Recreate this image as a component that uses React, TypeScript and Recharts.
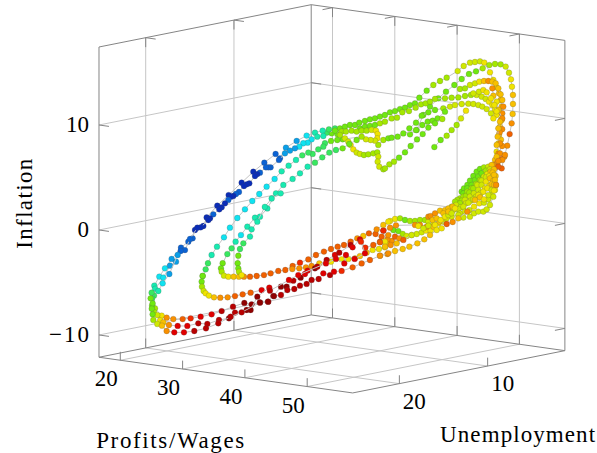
import * as React from "react";
import { ReferenceDot, ReferenceLine, Scatter, ScatterChart, XAxis, YAxis } from "recharts";

// a point is [across, height, colour]: across is read on the Profits/Wages scale,
// height on the Inflation scale of the left edge, colour is an index in colourBands
type Pt = [number, number, number];

const colourBands = [
  "#0a2cb8", "#0a62d4", "#0a9fe8", "#10e2f0", "#18eab0", "#38e860", "#70e810", "#a4e800", "#d0e800",
  "#f0e400", "#f8c000", "#f89000", "#f06000", "#f02800", "#e00000", "#b80000", "#900000",
];

const profitTicks = [20, 30, 40, 50];
const unemploymentTicks = [20, 10];
const inflationTicks = [-10, 0, 10];
const profitRange = [16.58, 57.3];
const unemploymentRange = [1.25, 25.29];
const inflationRange = [-12.12, 17.43];

const outerLoop: Pt[] = [
  [52.59,8.95,4],[51.62,8.89,4],[50.71,8.64,3],[50.07,8.32,3],[49.37,8.26,3],[48.73,7.94,3],[48.04,7.78,2],[47.24,7.56,2],
  [46.43,7.3,2],[45.47,6.67,1],[44.13,5.97,1],[43.76,5.97,1],[43.38,5.97,1],[42.42,5.46,1],[41.99,5.33,0],[41.62,5.14,0],
  [40.71,4.44,0],[40.28,4.35,0],[39.85,4.19,0],[39.05,3.62,1],[38.57,3.43,1],[38.14,3.24,0],[37.77,3.17,0],[37.34,2.86,1],
  [36.8,2.54,0],[36.27,2.16,0],[35.89,1.97,0],[34.93,1.49,1],[34.4,1.11,0],[34.13,0.95,0],[32.9,0.25,0],[32.36,0.22,0],
  [31.19,-0.86,1],[30.38,-1.91,1],[29.69,-2,1],[29.21,-2.38,2],[27.87,-4.19,2],[26.8,-5.08,3],[26.1,-5.81,4],[25.03,-5.97,5],
  [24.87,-6.51,6],[25.19,-6.99,6],[25.05,-7.5,6],[25.19,-8.03,6],[25.3,-8.57,7],[25.94,-8.95,8],[26.69,-9.11,10],[27.44,-9.62,11],
  [28.67,-9.75,14],[30.22,-9.75,14],[31.88,-9.62,15],[33.75,-9.37,15],[35.73,-8.89,15],[37.71,-8.26,15],[39.48,-7.84,15],
  [42.42,-6.92,16],[43.7,-6.83,16],[44.67,-6.29,16],[45.79,-6.19,15],[46.81,-5.72,15],[47.93,-5.62,15],[48.84,-5.3,15],
  [49.91,-5.14,15],[50.71,-4.76,15],[51.84,-4.67,15],[52.59,-4.13,14],[53.66,-4.29,15],[54.3,-3.97,14],[55.53,-3.9,13],
  [57.29,-3.56,12],[58.74,-3.18,12],[60.07,-2.86,12],[61.68,-2.45,11],[63.02,-2.22,11],[64.1,-2,10],[65.33,-1.81,10],
  [66.4,-1.59,10],[67.68,-1.27,10],[68.8,-0.89,10],[69.72,-0.48,10],[70.79,0,9],[71.59,0.16,9],
];

const upperLoop: Pt[] = [
  [53.49,9.59,5],[52.48,9.46,4],[51.25,9.27,4],[49.91,8.99,3],[48.31,8.48,2],[46.59,7.84,2],[45.63,6.83,1],[44.93,7.24,1],
  [43.12,6.41,1],[41.35,5.55,0],[39.48,4.51,0],[37.39,3.33,0],[35.57,2.32,0],[33.86,1.2,0],[33.33,0.38,0],[31.99,0,0],
  [31.61,-0.79,1],[30.92,-1.11,1],[29.74,-1.68,1],[28.24,-2.76,2],[27.17,-3.65,3],[26.26,-4.44,3],[25.46,-5.3,4],
  [25.41,-6.25,5],[25.57,-7.46,7],[26.64,-8.16,9],[27.44,-8.35,11],[28.51,-8.48,11],[30.01,-8.48,12],[31.29,-8.41,13],
  [32.9,-8.26,14],[34.66,-8.03,14],[36.27,-7.72,15],[38.09,-7.3,15],[39.91,-6.95,16],[41.08,-7.08,16],[42.42,-6.89,16],
  [43.76,-6.83,15],[44.56,-6.29,16],[45.79,-5.4,16],[46.7,-5.4,16],[47.77,-4.83,15],[48.95,-4.54,16],[49.64,-4.19,14],
  [50.07,-3.87,14],[51.25,-3.65,16],[51.62,-3.49,15],[53.12,-2.86,15],[54.46,-2.38,14],[55.15,-2.16,15],[56.97,-1.43,15],
  [57.29,-1.65,14],[58.47,-0.89,14],[59.33,-1.68,13],[60.61,-1.43,12],[61.68,-1.17,12],[62.49,-1.59,10],[63.4,-1.43,11],
  [64.37,-1.27,10],[65.44,-0.95,12],[66.77,-0.48,8],
];

const middleLoop: Pt[] = [
  [28.94,-3.02,2],[27.98,-3.4,2],[26.91,-4.54,3],[25.6,-5.6,4],[25.1,-6.5,5],[25.1,-7.2,6],[25.4,-7.8,7],[25.94,-8.1,8],[26.4,-8.6,9],
  [26.9,-8.8,10],[27.81,-9.05,11],[29.21,-9.14,14],[30.76,-9.14,14],
  [32.52,-8.89,15],[33.97,-8.95,15],[35.84,-8.57,15],[37.44,-8.41,16],[38.41,-7.87,15],[40.28,-7.62,16],[40.92,-7.62,16],
  [41.99,-6.35,16],[43.92,-5.49,14],[44.02,-5.78,15],[47.07,-4.76,14],[48.57,-4.29,14],[53.01,-3.18,14],[54.62,-2.76,14],
  [55.96,-3.18,14],[56.22,-2.38,14],[57.61,-2.76,14],[59.27,-2.22,14],[58.63,-1.11,13],
];

const innerRed: Pt[] = [
  [33.22,-4.38,6],[33.06,-4.92,6],[33.11,-5.4,7],[33.38,-5.81,8],[33.7,-6.03,9],[34.23,-6.25,9],[35.04,-6.41,10],
  [36.05,-6.45,11],[37.23,-6.41,11],[38.41,-6.29,12],[39.64,-6.13,12],[40.92,-5.97,12],[42.69,-5.72,14],
];

const innerCyan: Pt[] = [
  [54.83,8.57,6],[53.82,8.48,6],[52.85,8.26,5],[52.59,7.94,5],[51.78,7.68,5],[50.87,7.24,5],[50.18,7.37,5],[49.21,7.11,5],
  [48.2,6.67,4],[47.02,6.13,4],[45.9,5.59,4],[44.77,4.86,3],[43.49,4.13,3],[42.31,3.43,3],[41.19,2.76,3],[40.01,1.97,3],
  [38.78,1.14,3],[37.6,0.22,3],[36.64,-0.7,3],[35.52,-1.59,4],[34.66,-2.38,4],[34.07,-3.17,5],[33.7,-3.75,5],[33.22,-4.38,6],
];

const innerOrange: Pt[] = [
  [57.94,8.57,6],[56.76,8.19,6],[55.69,7.78,6],[54.62,7.62,5],[53.55,7.37,5],[52.42,6.92,5],[51.25,6.41,5],[50.07,6.03,4],
  [48.84,5.4,4],[47.66,4.86,4],[46.17,4.29,4],[44.99,3.49,4],[43.6,2.05,4],[42.42,1.27,4],[41.62,1.17,4],[40.39,0.32,4],
  [39.37,-0.48,3],[38.51,-1.11,4],[37.87,-1.75,5],[37.18,-2.29,5],[36.43,-3.17,6],[36.16,-3.65,6],[36.27,-3.97,7],
  [36.64,-4.35,8],[37.34,-4.45,9],[38.19,-4.45,10],[39.05,-4.45,10],[39.85,-4.45,11],[40.82,-4.45,12],[41.89,-4.38,12],
  [43.06,-4.29,12],[44.13,-4.13,12],[45.36,-3.9,12],[46.49,-3.81,12],[47.66,-3.43,12],[48.84,-3.11,13],[50.18,-2.8,12],
  [51.41,-2.38,12],[52.69,-2.06,12],[53.82,-1.81,12],[54.89,-1.59,12],[55.9,-1.43,12],[56.97,-1.11,12],[58.04,-0.79,11],
  [59,-0.57,10],[59.91,-0.32,12],[60.98,-0.38,12],[61.15,0.06,11],[62.22,0.48,10],[63.02,0.79,9],
];

const thirdInner: Pt[] = [
  [45.74,3.49,4],[44.3,3,4],[43.2,2.2,4],[41.99,0.79,4],[41.08,0.06,4],[40.82,-0.63,4],[39.75,-1.27,5],[39.21,-1.81,5],
  [38.94,-2.45,6],[38.84,-3.17,6],[38.94,-3.65,6],[39.05,-3.97,7],[39.48,-4.29,9],
];

const yellowRow: Pt[] = [
  [47.61,-3.72,11],[48.73,-3.65,11],[49.8,-3.56,11],[50.71,-3.43,11],[51.94,-3.18,10],[53.82,-3.02,9],[55.53,-2.79,9],
  [56.6,-2.76,9],[57.67,-2.7,10],[58.47,-2.48,10],[59.54,-2.16,10],[60.5,-1.9,9],[61.52,-1.81,9],[62.48,-1.65,9],[63.02,-1.27,10],
  [63.56,-1.05,11],[64.1,-0.64,12],[64.79,-0.79,11],[65.97,-0.57,8],
];

const topArc: Pt[] = [
  [54.46,9.68,5],[55.26,9.68,6],[56.06,9.84,6],[56.86,10,6],[57.67,10,6],[58.36,10.22,6],[59.27,10.38,6],[60.07,10.54,6],
  [60.88,10.64,6],[61.68,10.8,6],[62.48,10.95,6],[63.29,11.21,6],[64.1,11.33,6],[64.9,11.52,6],[65.7,11.65,6],[66.5,11.9,6],
  [67.3,12.06,6],[68,12.6,6],[69.18,13.27,6],[70.25,13.81,7],[71.32,14.19,7],[72.39,14.51,7],[74.15,15.14,8],[75.12,15.62,8],
  [76.13,15.94,8],[76.93,16,8],[77.74,16.06,8],[78.43,15.94,9],[79.34,15.02,9],[79.88,14.29,9],[80.41,13.59,9],[80.79,13.02,10],
  [81.05,12.38,10],[81.22,11.75,10],[81.22,11.11,10],[81.11,10.48,10],[80.95,9.84,10],[80.79,9.05,10],[80.68,8.25,9],
  [80.41,7.46,9],[80.15,6.67,10],
];

const outerArc: Pt[] = [
  [66.5,9.11,6],[67.57,9.52,6],[68.64,10.95,6],[69.71,11.75,6],[71.05,12.54,6],[72.28,13.17,6],[73.62,13.81,6],[74.8,14.38,6],
  [75.97,14.86,6],[77.1,15.11,6],[78.17,15.4,7],[79.24,15.71,7],[80.15,15.81,7],[81.05,15.78,7],[81.86,15.56,8],[82.39,14.98,8],
  [82.71,14.35,9],[82.87,13.65,9],[83.03,12.86,10],[83.03,12,10],[82.98,11.05,10],[82.82,10.16,11],[82.5,9.14,12],[82.12,8.03,11],
  [81.64,6.98,11],[81.22,5.87,12],
];

const middleArc: Pt[] = [
  [58.47,9.68,6],[59.27,9.84,6],[60.07,9.91,6],[60.88,10,6],[61.68,10.16,7],[62.48,10.32,7],[63.56,10.63,7],[64.42,10.7,7],
  [65.27,11.21,7],[66.34,11.33,7],[67.41,11.65,7],[68.27,11.97,7],[69.02,12.06,7],[69.71,12.22,7],[70.52,12.48,7],[72.12,12.54,7],
  [73.19,12.6,7],[74.26,12.63,7],[75.33,12.76,7],[76.29,12.86,7],[77.2,12.86,8],[78.01,12.7,8],[78.65,12.48,8],[79.18,12.22,9],
  [79.72,11.9,9],[80.15,11.43,9],[80.41,10.95,9],
];

const peakArc: Pt[] = [
  [74.53,13.43,7],[75.33,13.49,7],[76.13,13.81,8],[76.93,13.97,8],[77.63,14.13,9],[78.38,14.19,10],[79.08,14.19,11],[79.72,14.13,10],
  [80.25,13.97,10],[80.68,13.49,10],[81.05,12.92,10],[81.32,12.38,10],[81.48,11.75,11],[81.32,11.11,11],[81.22,10.48,10],
  [81.3,9.6,11],[80.9,9.3,11],[81.1,8.6,10],[81.3,8,11],[80.7,7.3,11],[81.2,7,12],[80.5,6.4,11],
];

const orangeColumn: Pt[] = [
  [79.72,13.49,11],[79.88,12.79,10],[80.41,12.22,9],[80.68,11.43,10],[81.32,10.63,11],[80.95,10.32,10],[80.68,9.68,10],
  [80.57,8.89,10],[80.95,8.25,11],[80.41,8.1,10],[80.95,7.3,11],[80.41,6.98,10],[81.75,7.14,11],[81.32,6.67,11],[80.68,6.57,11],
  [79.88,6.19,11],[80.68,6.03,12],[80.25,5.14,10],[80.31,4.29,11],
];

const lowerArc: Pt[] = [
  [66.4,9.68,6],[67.47,10.22,6],[68.38,10.89,6],[69.45,11.21,6],[70.52,11.43,6],[71.85,11.59,7],[72.92,11.75,8],[73.72,11.9,8],
  [74.8,12,8],[75.87,12.03,8],[76.67,12,8],[77.47,11.9,8],[78.11,11.75,8],[78.81,11.52,8],[79.5,11.11,8],[79.88,10.63,9],
];

const yellowPeak: Pt[] = [
  [76.67,13.02,8],[77.58,13.17,8],[78.27,13.33,9],[78.81,13.11,9],[79.5,12.54,9],[80.04,11.9,9],[80.4,11.3,9],
];

const firstSwirl: Pt[] = [
  [53.12,9.27,5],[54.46,9.46,6],[55.26,9.05,7],[56.06,8.73,8],[56.6,8.41,8],[56.97,8.1,9],[57.4,7.68,9],[57.94,7.37,8],
  [58.47,7.24,8],[59.11,7.14,7],[59.81,7.21,7],[60.61,7.3,7],[61.25,7.4,7],[61.41,6.99,8],[61.31,6.51,8],[61.57,6.03,8],
  [62.22,5.78,7],[62.49,5.87,7],[63.19,6.25,7],[63.93,6.51,7],[64.74,6.89,6],[65.7,7.4,6],[66.61,8,6],[67.63,8.63,6],
  [68.54,9.14,6],[69.45,9.75,6],[70.52,10.16,6],[71.69,10.57,7],
];

const secondSwirl: Pt[] = [
  [53.92,9.21,6],[54.83,9.14,6],[55.53,9.37,7],[56.22,9.37,7],[57.13,9.46,7],[57.94,9.37,7],[58.74,9.46,7],[59.54,9.46,7],
  [60.34,9.53,8],[61.04,9.46,9],[61.31,9.14,9],[61.25,8.73,9],[60.88,8.51,8],[60.18,8.57,8],[59.43,8.64,8],[58.74,8.89,7],
  [55.69,8.64,6],
];

const thirdSwirl: Pt[] = [
  [61.41,8.1,7],[62.22,8.57,7],[63.02,8.73,6],[63.56,8.79,6],[64.52,8.89,6],[65.43,9.2,6],[67.47,9.52,6],[68.48,10,6],[69.34,10.32,6],
  [70.14,10.41,6],[70.94,10.63,6],[72.12,11.27,6],
];

const lastTail: Pt[] = [
  [70.41,7.9,6],[71.42,8.57,6],[72.39,8.98,7],[73.19,9.52,7],[73.99,10,7],[74.69,10.63,8],[75.49,11.36,9],
];

const clusterA: Pt[] = [
  [74.8,3.65,6],[75.17,3.97,6],[75.71,4.29,6],[76.13,4.7,6],[76.67,5.14,6],[77.2,5.56,6],[77.74,5.81,6],[78.38,5.97,7],
  [79.08,6.03,8],[79.61,6.19,10],
];
const clusterB: Pt[] = [
  [74.53,3.02,7],[75.07,3.17,7],[75.71,3.65,7],[76.4,3.97,7],[77.1,4.38,7],[77.74,4.76,7],[78.38,5.08,8],[78.92,5.33,9],
  [79.45,5.56,10],[79.99,5.78,10],
];
const clusterC: Pt[] = [
  [73.73,2.7,7],[74.53,2.54,7],[75.33,2.86,8],[76.13,3.17,8],[76.78,3.49,8],[77.47,3.81,8],[78.01,4.29,8],[78.7,4.6,9],
  [79.34,4.92,10],[79.99,5.24,10],
];
const clusterD: Pt[] = [
  [73.46,1.9,8],[74.26,1.97,8],[75.07,2.22,8],[75.87,2.6,8],[76.67,2.92,8],[77.47,3.33,9],[78.28,3.65,9],[78.92,3.97,9],
  [79.61,4.38,10],[80.15,4.76,10],
];
const clusterE: Pt[] = [
  [76.94,2.86,10],[77.74,3.11,10],[78.38,2.92,9],[79.08,3.33,8],[79.61,3.81,8],[79.99,4.29,10],[80.31,4.29,11],
];
const clusterF: Pt[] = [
  [75.07,1.19,8],[76.13,1.27,8],[76.78,1.59,8],[77.47,1.75,8],[78.28,1.75,8],[78.81,1.97,8],[79.34,2.38,8],[79.88,3.17,8],[79.99,3.75,9],
];
const clusterG: Pt[] = [
  [74.1,2.86,7],[74.8,2.79,7],[75.49,3.24,7],[76.03,3.56,7],[76.67,3.97,7],[77.31,4.29,8],[78.01,4.7,8],[78.7,5.02,8],[79.24,5.14,9],[79.77,5.46,10],
];
const clusterH: Pt[] = [
  [73.19,2.22,8],[73.89,2.38,8],[74.64,2.16,8],[75.49,2.54,8],[76.24,2.79,8],[77.1,3.17,8],[77.85,3.49,8],[78.54,3.97,9],[79.24,4.19,9],[79.88,4.7,10],
];
const clusterI: Pt[] = [
  [74.53,1.59,8],[75.33,1.75,8],[76.03,1.9,8],[76.78,2.22,9],[77.63,2.54,9],[78.38,2.6,8],[79.08,2.92,8],[79.61,3.33,8],[80.15,3.81,9],
];
const clusterJ: Pt[] = [
  [75.07,3.49,6],[75.71,3.97,6],[76.4,4.29,6],[76.94,4.76,6],[77.47,5.08,6],[78.01,5.4,6],[78.7,5.65,7],[79.34,5.78,8],
];

const bandUpper: Pt[] = [
  [63.3,0.86,9],[64.1,1.05,9],[64.9,1.11,7],[65.7,0.95,6],[66.5,0.86,7],[67.31,0.86,7],[68.11,0.95,7],[68.91,0.95,7],[69.45,0.79,8],
  [70.25,0.63,8],[71.05,0.63,9],[71.86,0.79,8],[72.39,1.11,8],[73.19,1.27,8],[74.26,1.43,8],
];
const bandLower: Pt[] = [
  [63.83,0,6],[64.63,-0.1,6],[65.33,-0.38,7],[66.77,-0.48,8],[67.58,-0.38,8],[68.38,-0.22,8],[69.07,-0.06,9],[69.82,-0.06,9],
];
const bandOrange: Pt[] = [
  [62.23,-0.06,13],[63.3,0.22,11],[64.26,0.44,11],[67.31,0.48,11],[68.11,0.48,11],[69.18,0.32,11],[70.25,0.32,10],[71.21,0.79,10],
  [72.39,0.57,12],[73.35,0.76,11],[74.26,1.11,10],[75.71,1.75,11],
];
const bandAmber: Pt[] = [
  [69.45,1.27,11],[69.82,1.33,11],[70.52,1.59,11],[71.32,1.84,10],[72.12,1.9,10],[72.66,2.06,10],[73.35,2.22,10],
];
const bandFill: Pt[] = [
  [67.84,0.38,9],[68.65,0.16,8],[69.45,0.41,8],[70.14,0.95,10],[70.52,0.48,9],[70.79,1.11,10],[71.43,0.95,9],[71.86,1.59,10],
  [72.12,1.27,9],[72.66,1.43,8],[72.66,1.75,10],[73.19,1.59,8],[73.73,2.06,9],
];
const looseOrange: Pt[] = [
  [61.69,-1.11,12],[61.95,-0.63,12],[62.22,-0.06,13],[62.87,-0.89,11],[63.02,-0.48,11],[62.48,-1.11,9],[62.87,-2.29,11],[61.69,-2.45,11],
];

const strands = [
  topArc, outerArc, middleArc, lowerArc, peakArc, orangeColumn, yellowPeak, lastTail, thirdSwirl, secondSwirl, firstSwirl,
  clusterA, clusterJ, clusterB, clusterG, clusterC, clusterH, clusterD, clusterI, clusterE, clusterF,
  bandUpper, bandLower, bandAmber, bandOrange, bandFill,
  innerCyan, innerOrange, thirdInner, yellowRow, looseOrange, innerRed, upperLoop, middleLoop, outerLoop,
];

const FONT = "'Liberation Serif', serif";
const EDGE = "#858585";
const GRID = "#c6c6c6";

const [pMin, pMax] = profitRange;
const [uMin, uMax] = unemploymentRange;
const [zMin, zMax] = inflationRange;

// the box has an orthographic view, so the three axes map linearly on the page
const project = (p: number, u: number, z: number) => ({
  x: p + (uMax - u) * 1.417,
  y: z - 0.0835 * (p - pMin) + 0.1676 * (uMax - u),
});

type Seg = { a: number[]; b: number[]; color: string };
const seg = (a: number[], b: number[], color: string): Seg => ({ a, b, color });

const gridSegs: Seg[] = [
  ...inflationTicks.flatMap((z) => [
    seg([pMin, uMax, z], [pMin, uMin, z], GRID),
    seg([pMin, uMin, z], [pMax, uMin, z], GRID),
  ]),
  ...unemploymentTicks.flatMap((u) => [
    seg([pMin, u, zMin], [pMin, u, zMax], GRID),
    seg([pMin, u, zMin], [pMax, u, zMin], GRID),
  ]),
  ...profitTicks.flatMap((p) => [
    seg([p, uMin, zMin], [p, uMin, zMax], GRID),
    seg([p, uMax, zMin], [p, uMin, zMin], GRID),
  ]),
];

const edgeSegs: Seg[] = [
  seg([pMin, uMax, zMin], [pMin, uMax, zMax], EDGE),
  seg([pMin, uMin, zMin], [pMin, uMin, zMax], EDGE),
  seg([pMax, uMin, zMin], [pMax, uMin, zMax], EDGE),
  seg([pMin, uMax, zMin], [pMax, uMax, zMin], EDGE),
  seg([pMax, uMax, zMin], [pMax, uMin, zMin], EDGE),
  seg([pMin, uMax, zMax], [pMin, uMin, zMax], EDGE),
  seg([pMin, uMin, zMax], [pMax, uMin, zMax], EDGE),
  seg([pMin, uMax, zMin], [pMin, uMin, zMin], EDGE),
  seg([pMin, uMin, zMin], [pMax, uMin, zMin], EDGE),
  ...inflationTicks.flatMap((z) => [
    seg([pMin, uMax, z], [pMin + 1.6, uMax, z], EDGE),
    seg([pMin, uMin, z], [pMin + 1.6, uMin, z], EDGE),
    seg([pMax, uMin, z], [pMax, uMin + 1.13, z], EDGE),
  ]),
  ...unemploymentTicks.flatMap((u) => [
    seg([pMax, u, zMin], [pMax, u, zMin + 0.8], EDGE),
    seg([pMin, u, zMin], [pMin, u, zMin + 0.9], EDGE),
    seg([pMin, u, zMax], [pMin, u, zMax - 0.9], EDGE),
    seg([pMin, u, zMax], [pMin + 1.6, u, zMax], EDGE),
  ]),
  ...profitTicks.flatMap((p) => [
    seg([p, uMax, zMin], [p, uMax, zMin + 0.8], EDGE),
    seg([p, uMin, zMin], [p, uMin, zMin + 0.9], EDGE),
    seg([p, uMin, zMax], [p, uMin, zMax - 0.9], EDGE),
    seg([p, uMin, zMax], [p, uMin + 1.13, zMax], EDGE),
  ]),
];

const PointDot = (props: any) => (
  <circle
    cx={props.cx}
    cy={props.cy}
    r={2.9}
    fill={colourBands[props.payload.c]}
    stroke="rgba(70,70,70,0.35)"
    strokeWidth={0.6}
  />
);

// text placed at a projected spot of the box, with a shift in pixels
const pageText = (key: string, at: { x: number; y: number }, value: string, dx: number, dy: number, opts: any = {}) => (
  <ReferenceDot
    key={key}
    x={at.x}
    y={at.y}
    r={0}
    ifOverflow="visible"
    shape={(p: any) => {
      const tx = p.cx + dx;
      const ty = p.cy + dy;
      return (
        <text
          x={tx}
          y={ty}
          fontFamily={FONT}
          fontSize={opts.size ?? 23}
          fill="#000"
          textAnchor={opts.anchor ?? "middle"}
          textLength={opts.length}
          lengthAdjust="spacing"
          transform={opts.rotate ? `rotate(${opts.rotate} ${tx} ${ty})` : undefined}
        >
          {value}
        </text>
      );
    }}
  />
);

export default function App() {
  return (
    <div style={{ position: "absolute", left: 0, top: 0 }}>
      <ScatterChart width={597} height={453} margin={{ top: 0, right: 0, bottom: 0, left: 0 }}>
        <XAxis type="number" dataKey="h" domain={[0.69, 96.52]} allowDataOverflow hide />
        <YAxis type="number" dataKey="v" domain={[-21.24, 21.905]} allowDataOverflow hide />
        {[...gridSegs, ...edgeSegs].map((s, i) => {
          const [a, b] = [project(s.a[0], s.a[1], s.a[2]), project(s.b[0], s.b[1], s.b[2])];
          return <ReferenceLine key={i} segment={[a, b]} stroke={s.color} strokeWidth={1} ifOverflow="visible" />;
        })}
        {strands.map((strand, i) => (
          <Scatter
            key={i}
            data={strand.map(([h, v, c]) => ({ h, v, c }))}
            line={{ stroke: "#c4c4c4", strokeWidth: 1 }}
            shape={PointDot}
            isAnimationActive={false}
          />
        ))}
        {profitTicks.map((p) => pageText(`p${p}`, project(p, uMax, zMin), String(p), -14, 26))}
        {unemploymentTicks.map((u) => pageText(`u${u}`, project(pMax, u, zMin), String(u), 15, 25))}
        {inflationTicks.map((z) =>
          pageText(`z${z}`, project(pMin, uMax, z), z < 0 ? `\u2212${-z}` : String(z), -10, 7, {
            anchor: "end",
            length: z < 0 ? 40 : undefined,
          }),
        )}
        {pageText("xl", project(37, uMax, zMin), "Profits/Wages", -56, 73, { length: 148 })}
        {pageText("ul", project(pMax, 12.5, zMin), "Unemployment", 52, 72, { length: 155 })}
        {pageText("il", project(pMin, uMax, 2.5), "Inflation", -67, 0, { rotate: -90, length: 90 })}
      </ScatterChart>
    </div>
  );
}
